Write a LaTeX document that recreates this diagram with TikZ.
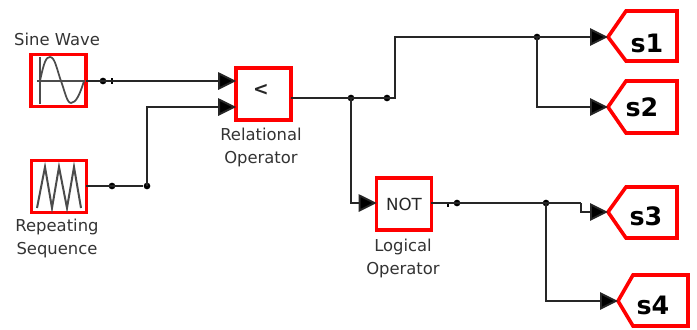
\documentclass[tikz,border=0pt]{standalone}
\usepackage{fontspec}
\setmainfont{DejaVu Sans}
\usetikzlibrary{arrows.meta}

\begin{document}
\begin{tikzpicture}[x=0.75pt,y=-0.75pt]
\tikzstyle{block}=[rectangle,draw=red,line width=2.7pt,inner sep=0pt,outer sep=0pt,
minimum width=41pt,minimum height=39pt,text=black!85,font=\fontsize{12.5}{14}\selectfont]
\tikzstyle{caption}=[align=center,text=black!80,inner sep=0pt,
font=\fontsize{12.3}{17.25}\selectfont]
\tikzstyle{tagname}=[inner sep=0pt,font=\fontsize{19}{20}\selectfont\bfseries]
\tikzstyle{tagline}=[draw=red,line width=2.7pt,line join=miter]
\tikzstyle{junction}=[circle,fill=black,inner sep=0pt,minimum size=5pt]
\tikzstyle{wiremark}=[rectangle,fill=black,inner sep=0pt,minimum width=1.6pt,minimum height=5pt]
\tikzstyle{wire}=[draw=black!85,line width=1.4pt]
\tikzstyle{signal}=[wire,-{Triangle[length=13.5pt,width=13pt,fill=black]}]
\tikzstyle{icon}=[draw=black!70,line width=1.3pt]

\useasboundingbox (0,0) rectangle (697,329);

% blocks
\node[block] at (58.5,80.5)	(sine) {};
\node[block] at (59,186.5)	(rep) {};
\node[block] at (263.5,94)	(rel) {};
\node[block] at (404,204)	(not) {NOT};
\node[text=black!85,font=\fontsize{14}{14}\selectfont\bfseries] at (261,90)	(relsign) {<};

\node[caption] at (57,39)	(sinecap) {Sine Wave};
\node[caption] at (57,238.5)	(repcap) {Repeating\\Sequence};
\node[caption] at (261,147.5)	(relcap) {Relational\\Operator};
\node[caption] at (403,258.5)	(notcap) {Logical\\Operator};

% block icons
\draw[icon] (40,57) -- (40,104);
\draw[icon] (37,81) -- (85,81);
\draw[icon] (40,81) .. controls (44,62) and (46,57) .. (50,57)
 .. controls (55,57) and (57,70) .. (61,81)
 .. controls (65,92) and (67,103) .. (71,103)
 .. controls (76,103) and (80,94) .. (84,81);
\draw[icon,line width=1.5pt] (37,208) -- (45,167) -- (52,208) -- (59,167) -- (67,208) -- (74,167) -- (81,208);

% output tags
\coordinate (s1tip) at (608,37);
\coordinate (s2tip) at (608,107);
\coordinate (s3tip) at (608,212);
\coordinate (s4tip) at (618,301);
\draw[tagline] (s1tip) -- (626,11) -- (677,11) -- (677,61) -- (626,61) -- cycle;
\draw[tagline] (s2tip) -- (626,81) -- (677,81) -- (677,133) -- (626,133) -- cycle;
\draw[tagline] (s3tip) -- (626,187) -- (677,187) -- (677,238) -- (626,238) -- cycle;
\draw[tagline] (s4tip) -- (633,275) -- (688,275) -- (688,326) -- (633,326) -- cycle;
\node[tagname] at (647,43)	(s1) {s1};
\node[tagname] at (642,107)	(s2) {s2};
\node[tagname] at (646,216)	(s3) {s3};
\node[tagname] at (653,305)	(s4) {s4};

% branch points
\node[junction] at (103,81)	(d1) {};
\node[wiremark] at (112,81)	(m1) {};
\node[junction] at (112,186)	(d2) {};
\node[junction] at (147,186)	(d3) {};
\node[junction] at (351,98)	(d4) {};
\node[junction] at (387,98)	(d5) {};
\node[junction] at (537,37)	(d6) {};
\node[junction] at (457,203)	(d7) {};
\node[wiremark,minimum height=3pt] at (448,205)	(m2) {};
\node[junction] at (546,203)	(d8) {};

\coordinate (relin1) at (rel.west |- d1);
\coordinate (relin2) at (rel.west |- 0,107);
\coordinate (notin) at (not.west |- d7);
\coordinate (bend) at (581,203);

% connectors
\draw[signal] (sine.east |- d1) -- (relin1);
\draw[wire] (rep.east |- d2) -- (d3);
\draw[signal] (d3.center) |- (relin2);
\draw[wire] (rel.east |- d4) -- (395,98) |- (d6.center);
\draw[signal] (d6.center) -- (s1tip);
\draw[signal] (d6.center) |- (s2tip);
\draw[signal] (d4.center) |- (notin);
\draw[wire] (not.east |- d7) -- (bend);
\draw[signal] (bend) |- (s3tip);
\draw[signal] (d8.center) |- (s4tip);

\end{tikzpicture}
\end{document}
